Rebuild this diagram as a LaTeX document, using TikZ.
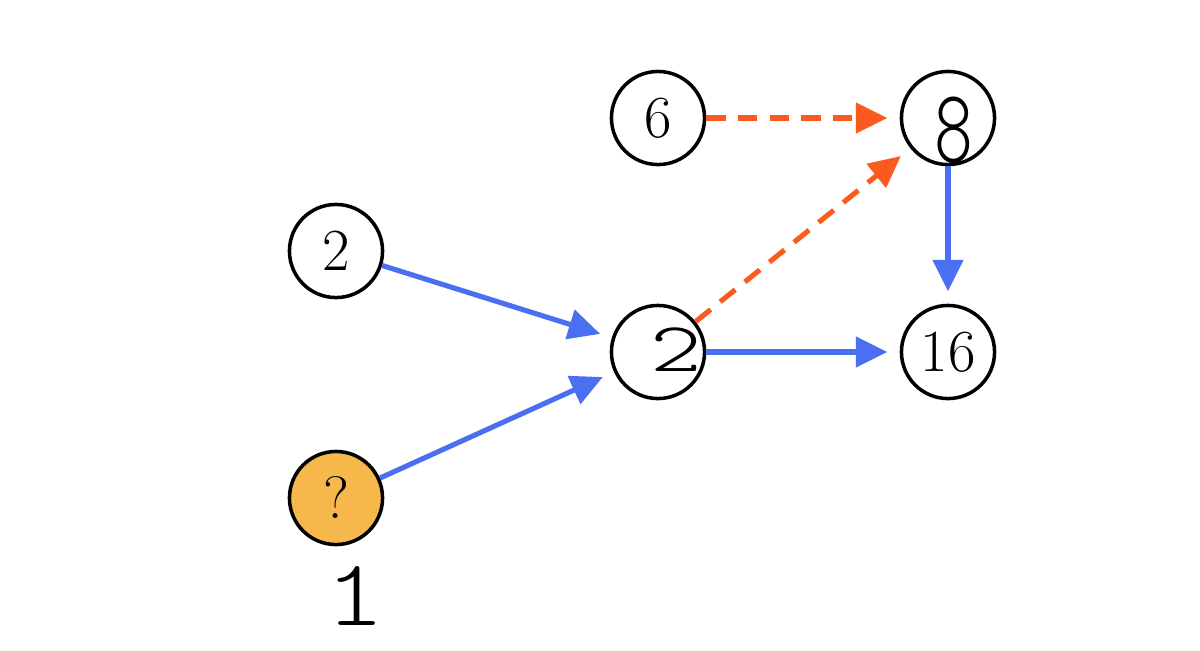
\documentclass[tikz,border=0pt]{standalone}
\usepackage{fontspec}
\newfontfamily\scrawlfont{lmmonolt10-regular.otf}
\usetikzlibrary{arrows.meta}
\definecolor{edgeblue}{HTML}{4A6FF0}
\definecolor{edgeorange}{HTML}{FA5A1E}
\definecolor{askfill}{HTML}{F7B84B}
\tikzset{
  vertex/.style={circle, draw=black, line width=2pt, minimum size=53pt, inner sep=0pt,
    font=\fontsize{34}{38}\selectfont},
  scrawl/.style={font=\scrawlfont\fontsize{#1}{#1}\selectfont, inner sep=0pt},
  flow/.style={draw=edgeblue, line width=2.9pt, -{Triangle[length=18pt,width=17pt]}, shorten >=7pt},
  hint/.style={draw=edgeorange, line width=2.9pt, dash pattern=on 11pt off 7pt,
    -{Triangle[length=18pt,width=17pt]}, shorten >=7pt}
}
\begin{document}
\begin{tikzpicture}[x=0.02cm, y=-0.02cm]
  \useasboundingbox (0,0) rectangle (1200,650);
  % vertices
  \node[vertex] (six) at (658,118) {6};
  \node[vertex] (eight) at (948,118) {};
  \node[vertex] (two) at (336,251) {2};
  \node[vertex] (mid) at (658,352) {};
  \node[vertex] (sixteen) at (948,352) {16};
  \node[vertex, fill=askfill] (ask) at (336,498) {?};
  % handwritten guesses
  \node[scrawl=40, xscale=1.4] (midnum) at (676,350) {2};
  \node[scrawl=60, xscale=0.7] (eightnum) at (954,130) {8};
  \node[scrawl=54, xscale=1.2] (asknum) at (355,596) {1};
  % edges
  \draw[flow] (two) -- (mid);
  \draw[flow] (ask) -- (mid);
  \draw[flow] (mid) -- (sixteen);
  \draw[flow] (eight) -- (sixteen);
  \draw[hint] (six) -- (eight);
  \draw[hint] (mid) -- (eight);
\end{tikzpicture}
\end{document}
